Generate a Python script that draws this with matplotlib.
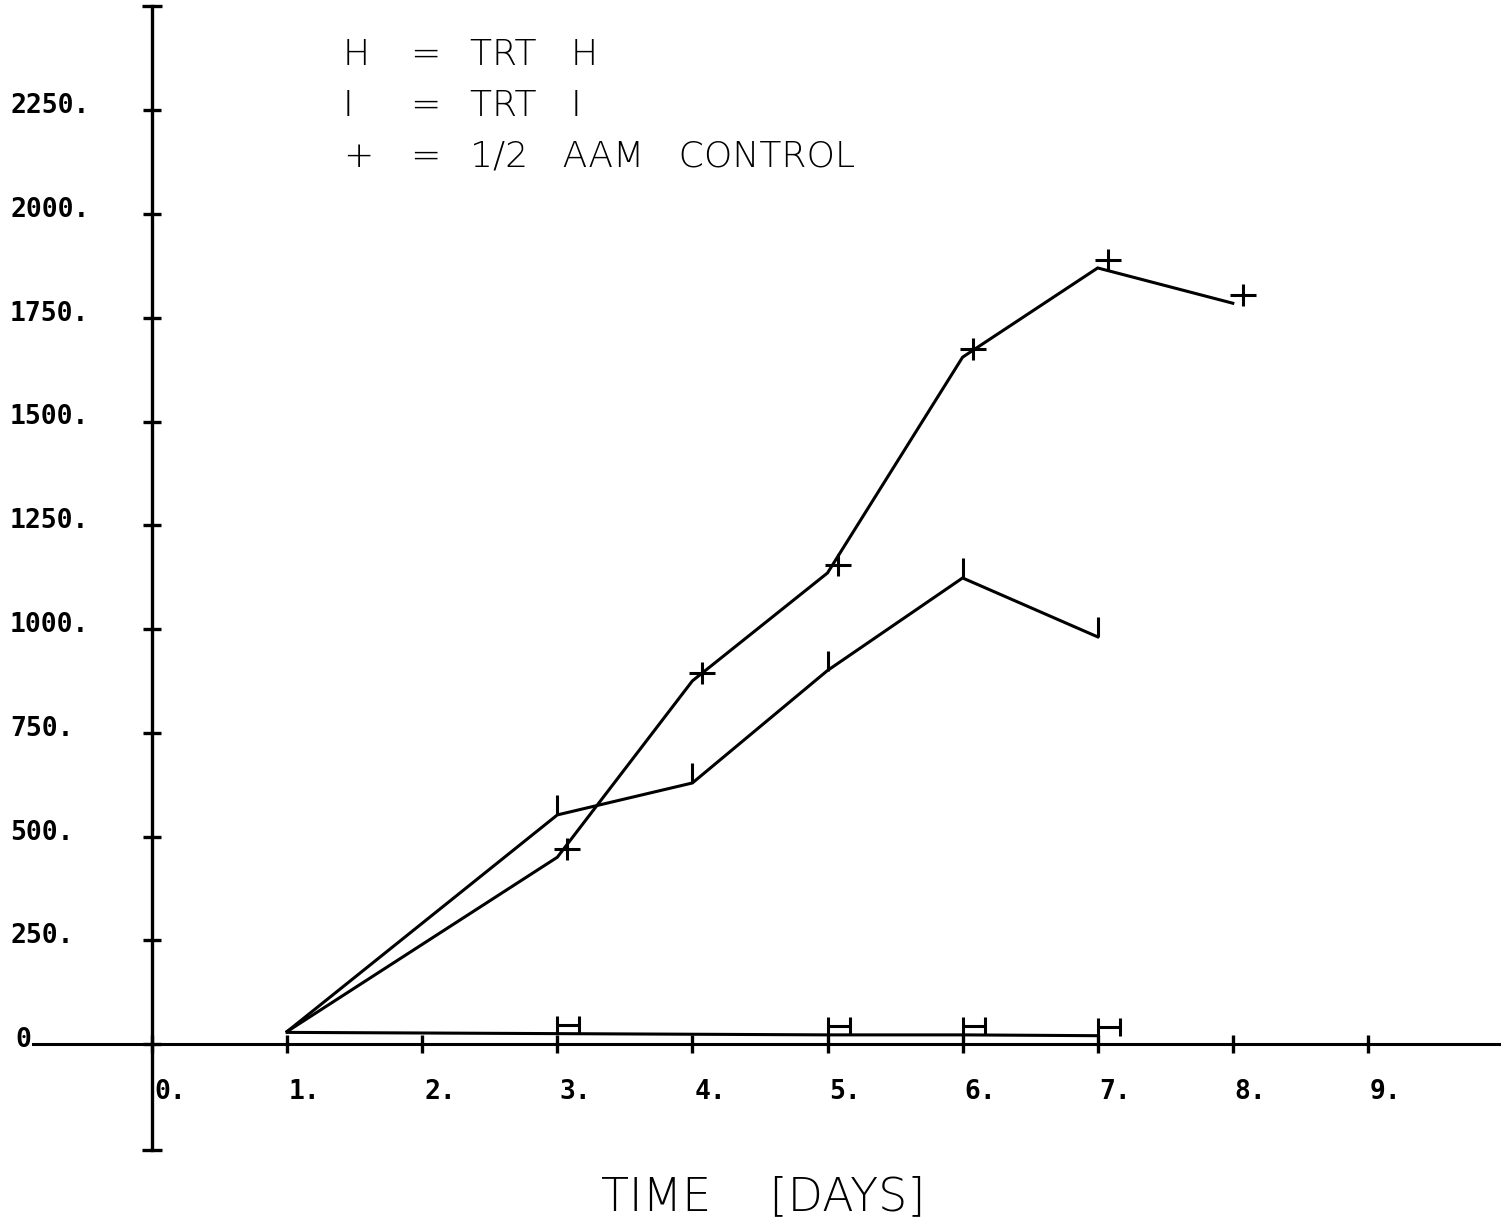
import matplotlib
matplotlib.use("Agg")
import matplotlib.pyplot as plt
from matplotlib.path import Path
from matplotlib.transforms import offset_copy

# data (day, value)
days_h = [1, 3, 5, 6, 7]
trt_h = [28, 25, 22, 22, 20]
days_i = [1, 3, 4, 5, 6, 7]
trt_i = [30, 552, 629, 900, 1123, 981]
days_ctl = [1, 3, 4, 5, 6, 7, 8]
ctl = [30, 450, 875, 1135, 1655, 1870, 1785]

x_ticks = [0, 1, 2, 3, 4, 5, 6, 7, 8, 9]
y_ticks = [0, 250, 500, 750, 1000, 1250, 1500, 1750, 2000, 2250]
legend_rows = [("H", "TRT   H"), ("I", "TRT   I"), ("+", "1/2   AAM   CONTROL")]
x_title = "TIME    [DAYS]"

W, H = 1501, 1225
X0, XS = 152, 135.1      # pixel of day 0, pixels per day
Y0, YS = 1044, 0.415     # pixel of value 0, pixels per unit


def xd(px):
    return (px - X0) / XS


def yd(py):
    return (Y0 - py) / YS


def marker(segments):
    # plotter style symbol, drawn with its lower left corner on the point
    verts, codes = [], []
    for (a, b) in segments:
        verts += [a, b]
        codes += [Path.MOVETO, Path.LINETO]
    path = Path(verts, codes)
    size = 1.44 * max(abs(v) for p in verts for v in p)
    return path, size


h_mark = marker([((0, 0), (0, 18)), ((22, 0), (22, 18)), ((0, 9), (22, 9))])
i_mark = marker([((0, 0), (0, 20))])
p_mark = marker([((-3, 8), (23, 8)), ((10, -3), (10, 19))])

fig = plt.figure(figsize=(W / 100, H / 100), dpi=100)
ax = fig.add_axes([0, 0, 1, 1])
ax.set_xlim(xd(0), xd(W))
ax.set_ylim(yd(H), yd(0))
ax.axis("off")

lw = 2.2
# axes
ax.plot([0, 0], [yd(1150), yd(6)], color="black", lw=2.4)
ax.plot([0, 0], [yd(1150), yd(6)], ls="none", marker="_", ms=14, mew=2.4, color="black")
ax.plot([xd(33), xd(W)], [0, 0], color="black", lw=2.2)
ax.plot([0] * len(y_ticks), y_ticks, ls="none", marker="_", ms=13, mew=2.4, color="black")
ax.plot(x_ticks, [0] * len(x_ticks), ls="none", marker="|", ms=13, mew=2.4, color="black")

tick_font = dict(family="DejaVu Sans Mono", fontweight="bold", fontsize=19, color="black")
for v in y_ticks:
    label = "0" if v == 0 else f"{v}."
    left = 15 if v == 0 else 10
    ax.text(xd(left), v, label, ha="left", va="center",
            transform=offset_copy(ax.transData, fig=fig, y=4, units="dots"), **tick_font)
for d in x_ticks:
    ax.text(d, yd(1092), f"{d}.", ha="left", va="center",
            transform=offset_copy(ax.transData, fig=fig, x=2, units="dots"), **tick_font)

# series
for xs, ys, (path, size) in [(days_h, trt_h, h_mark), (days_i, trt_i, i_mark), (days_ctl, ctl, p_mark)]:
    ax.plot(xs, ys, color="black", lw=lw, solid_joinstyle="miter")
    ax.plot(xs[1:], ys[1:], ls="none", marker=path, ms=size, mew=lw,
            mfc="none", mec="black")

# key
leg_font = dict(family="DejaVu Sans", fontweight="light", fontsize=26, color="black")
for k, (sym, desc) in enumerate(legend_rows):
    y = yd(55 + 51 * k)
    ax.text(xd(343), y, sym, ha="left", va="center", **leg_font)
    ax.text(xd(410), y, "=", ha="left", va="center", **leg_font)
    ax.text(xd(470), y, desc, ha="left", va="center", **leg_font)

ax.text(xd(763), yd(1197), x_title, ha="center", va="center",
        family="DejaVu Sans", fontweight="light", fontsize=33, color="black")

fig.savefig("out.png", dpi=100, facecolor="white")
